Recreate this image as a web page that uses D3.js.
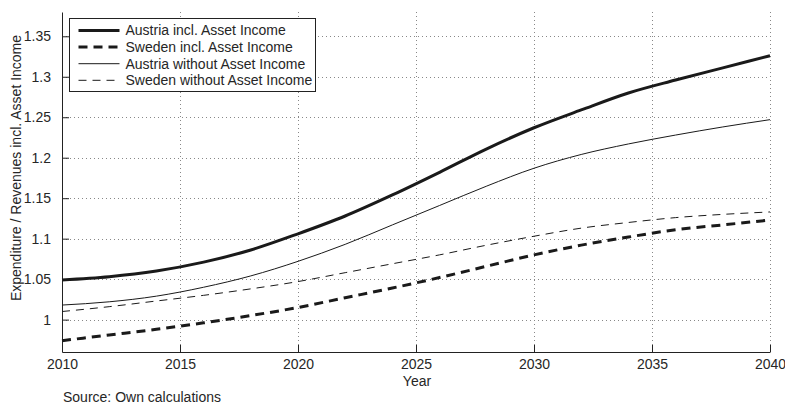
<!DOCTYPE html>
<html>
<head>
<meta charset="utf-8">
<script src="https://cdn.jsdelivr.net/npm/d3@7"></script>
<style>
  body { margin: 0; background: #fff; }
  svg { display: block; font-family: "Liberation Sans", Arial, sans-serif; }
  .tick-text { font-size: 14px; fill: #262626; }
</style>
</head>
<body>
<div id="chart"></div>
<script>
const years = [2010, 2012, 2014, 2016, 2018, 2020, 2022, 2024, 2026, 2028, 2030, 2032, 2034, 2036, 2038, 2040];
const austriaIncl = [1.049, 1.053, 1.060, 1.071, 1.086, 1.106, 1.128, 1.154, 1.182, 1.211, 1.237, 1.259, 1.280, 1.296, 1.311, 1.326];
const swedenIncl = [0.974, 0.981, 0.988, 0.996, 1.005, 1.015, 1.027, 1.039, 1.052, 1.066, 1.080, 1.092, 1.102, 1.111, 1.117, 1.123];
const austriaWithout = [1.018, 1.022, 1.029, 1.040, 1.054, 1.072, 1.093, 1.117, 1.141, 1.165, 1.187, 1.204, 1.217, 1.228, 1.238, 1.247];
const swedenWithout = [1.010, 1.016, 1.023, 1.030, 1.038, 1.047, 1.058, 1.069, 1.080, 1.092, 1.103, 1.113, 1.120, 1.126, 1.130, 1.133];

const xTicks = [2010, 2015, 2020, 2025, 2030, 2035, 2040];
const yTicks = [1, 1.05, 1.1, 1.15, 1.2, 1.25, 1.3, 1.35];
const seriesNames = [
  'Austria incl. Asset Income',
  'Sweden incl. Asset Income',
  'Austria without Asset Income',
  'Sweden without Asset Income',
];

// line styles for each series, same order as the names
const styles = [
  { width: 3, dash: null },
  { width: 3, dash: '9,6' },
  { width: 1, dash: null },
  { width: 1, dash: '8,6' },
];

const series = [austriaIncl, swedenIncl, austriaWithout, swedenWithout].map((vals, i) => ({
  name: seriesNames[i],
  style: styles[i],
  points: years.map((year, j) => ({ year, value: vals[j] })),
}));

const width = 785;
const height = 405;
const margin = { top: 12, right: 15, bottom: 53, left: 62 };

const x = d3.scaleLinear().domain([2010, 2040]).range([margin.left, width - margin.right]);
const y = d3.scaleLinear().domain([0.96, 1.38]).range([height - margin.bottom, margin.top]);

const svg = d3.select('#chart')
  .append('svg')
    .attr('width', width)
    .attr('height', height);

// dotted grid
const grid = svg.append('g').attr('stroke', '#888').attr('stroke-width', 1).attr('stroke-dasharray', '1,3');
grid.selectAll('line.v')
  .data(xTicks.slice(1))
  .enter()
  .append('line')
    .attr('x1', d => Math.round(x(d)) + 0.5)
    .attr('x2', d => Math.round(x(d)) + 0.5)
    .attr('y1', y.range()[1])
    .attr('y2', y.range()[0]);
grid.selectAll('line.h')
  .data(yTicks)
  .enter()
  .append('line')
    .attr('x1', x.range()[0])
    .attr('x2', x.range()[1])
    .attr('y1', d => Math.round(y(d)) + 0.5)
    .attr('y2', d => Math.round(y(d)) + 0.5);

// axes, ticks pointing inside like matlab
const xAxis = d3.axisBottom(x).tickValues(xTicks).tickFormat(d3.format('d')).tickSizeInner(-7).tickSizeOuter(0).tickPadding(6);
const yAxis = d3.axisLeft(y).tickValues(yTicks).tickFormat(d => String(+d.toFixed(2))).tickSizeInner(-7).tickSizeOuter(0).tickPadding(11);

const gx = svg.append('g')
  .attr('transform', `translate(0, ${y.range()[0]})`)
  .call(xAxis);
const gy = svg.append('g')
  .attr('transform', `translate(${x.range()[0]}, 0)`)
  .call(yAxis);

[gx, gy].forEach((g) => {
  g.select('.domain').attr('stroke', '#222');
  g.selectAll('.tick line').attr('stroke', '#222');
  g.selectAll('.tick text').attr('class', 'tick-text').attr('font-family', null).attr('font-size', null);
});
// x labels sit lower than the inward ticks would put them
gx.selectAll('.tick text').attr('y', 17).attr('dy', null);

// the lines
const line = d3.line()
  .x(d => x(d.year))
  .y(d => y(d.value))
  .curve(d3.curveMonotoneX);

svg.append('g')
  .selectAll('path')
  .data(series)
  .enter()
  .append('path')
    .attr('d', s => line(s.points))
    .attr('fill', 'none')
    .attr('stroke', '#1a1a1a')
    .attr('stroke-width', s => s.style.width)
    .attr('stroke-dasharray', s => s.style.dash);

// legend
const legend = svg.append('g').attr('transform', 'translate(69.5, 18.5)');
legend.append('rect')
  .attr('width', 246)
  .attr('height', 73)
  .attr('fill', '#fff')
  .attr('stroke', '#222')
  .attr('stroke-width', 1);
const rows = legend.selectAll('g.row')
  .data(series)
  .enter()
  .append('g')
    .attr('transform', (s, i) => `translate(0, ${12 + i * 16.6})`);
rows.append('line')
  .attr('x1', 9)
  .attr('x2', 50)
  .attr('y1', 0)
  .attr('y2', 0)
  .attr('stroke', '#1a1a1a')
  .attr('stroke-width', s => s.style.width)
  .attr('stroke-dasharray', s => s.style.dash);
rows.append('text')
  .attr('x', 56)
  .attr('y', 0)
  .attr('dy', '0.35em')
  .attr('class', 'tick-text')
  .text(s => s.name);

// axis titles and source note
svg.append('text')
  .attr('class', 'tick-text')
  .attr('text-anchor', 'middle')
  .attr('x', 417)
  .attr('y', 386)
  .text('Year');

svg.append('text')
  .attr('class', 'tick-text')
  .attr('text-anchor', 'middle')
  .attr('transform', 'translate(21, 168) rotate(-90)')
  .text('Expenditure / Revenues incl. Asset Income');

svg.append('text')
  .attr('x', 63)
  .attr('y', 402)
  .attr('class', 'tick-text')
  .text('Source: Own calculations');
</script>
</body>
</html>
